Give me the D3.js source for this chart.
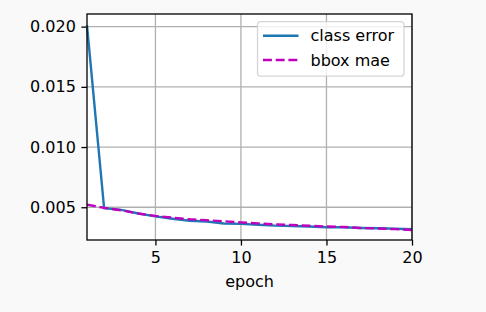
<!doctype html>
<html>
<head>
<meta charset="UTF-8">
<script src="https://cdnjs.cloudflare.com/ajax/libs/d3/7.8.5/d3.min.js"></script>
<style>
  body { margin: 0; background: #f9f9f9; }
  svg { display: block; font-family: "DejaVu Sans", sans-serif; }
</style>
</head>
<body>
<svg id="chart" width="486" height="312"></svg>
<script>
// data
const epochs = d3.range(1, 21);
const classError = [0.0201, 0.00492, 0.00478, 0.00448, 0.00424, 0.00405, 0.00388, 0.00382, 0.00365, 0.00362,
                    0.00355, 0.00347, 0.00344, 0.00340, 0.00334, 0.00334, 0.00328, 0.00325, 0.00322, 0.00317];
const bboxMae = [0.00522, 0.00495, 0.00475, 0.00448, 0.00428, 0.00414, 0.00400, 0.00392, 0.00384, 0.00374,
                 0.00366, 0.00358, 0.00352, 0.00346, 0.00340, 0.00336, 0.00328, 0.00324, 0.00318, 0.00311];
const xTicks = [5, 10, 15, 20];
const yTicks = [0.005, 0.010, 0.015, 0.020];
const seriesNames = ['class error', 'bbox mae'];

const svg = d3.select('#chart');
const margin = {top: 14, right: 74, bottom: 72, left: 87};
const width = 486 - margin.left - margin.right;
const height = 312 - margin.top - margin.bottom;

const g = svg.append('g').attr('transform', 'translate(' + margin.left + ',' + margin.top + ')');

const x = d3.scaleLinear().domain([1, 20]).range([0, width]);
const y = d3.scaleLinear().domain([0.00228, 0.02105]).range([height, 0]);

g.append('rect').attr('width', width).attr('height', height).attr('fill', '#fff');

// grid
g.selectAll('.gx').data(xTicks).enter().append('line')
  .attr('x1', d => x(d)).attr('x2', d => x(d)).attr('y1', 0).attr('y2', height)
  .attr('stroke', '#b0b0b0').attr('stroke-width', 1.3);
g.selectAll('.gy').data(yTicks).enter().append('line')
  .attr('y1', d => y(d)).attr('y2', d => y(d)).attr('x1', 0).attr('x2', width)
  .attr('stroke', '#b0b0b0').attr('stroke-width', 1.3);

// axes
const xAxis = g.append('g').attr('transform', 'translate(0,' + height + ')')
  .call(d3.axisBottom(x).tickValues(xTicks).tickFormat(d3.format('d')).tickSize(5.6).tickPadding(5.6));
const yAxis = g.append('g')
  .call(d3.axisLeft(y).tickValues(yTicks).tickFormat(d3.format('.3f')).tickSize(5.6).tickPadding(5.6));
[xAxis, yAxis].forEach(a => {
  a.select('.domain').remove();
  a.selectAll('line').attr('stroke', '#000').attr('stroke-width', 1.3);
  a.selectAll('text').attr('font-size', 16).attr('fill', '#000').attr('font-family', '"DejaVu Sans", sans-serif');
});

g.append('text').attr('x', width / 2).attr('y', height + 47)
  .attr('text-anchor', 'middle').attr('font-size', 16).text('epoch');

// lines
const line = d3.line().x((d, i) => x(epochs[i])).y(d => y(d));
g.append('path').datum(classError).attr('d', line)
  .attr('fill', 'none').attr('stroke', '#1f77b4').attr('stroke-width', 2.4);
g.append('path').datum(bboxMae).attr('d', line)
  .attr('fill', 'none').attr('stroke', '#bf00bf').attr('stroke-width', 2.4)
  .attr('stroke-dasharray', '8.9,3.8');

// frame
g.append('rect').attr('width', width).attr('height', height)
  .attr('fill', 'none').attr('stroke', '#000').attr('stroke-width', 1.3);

// legend
const lg = g.append('g').attr('transform', 'translate(' + (257.5 - margin.left) + ',' + (21.7 - margin.top) + ')');
lg.append('rect').attr('width', 146.5).attr('height', 54.5).attr('rx', 3)
  .attr('fill', 'rgba(255,255,255,0.8)').attr('stroke', 'rgba(204,204,204,0.8)').attr('stroke-width', 1.3);
const styles = [{c: '#1f77b4', d: null}, {c: '#bf00bf', d: '8.9,3.8'}];
seriesNames.forEach((name, i) => {
  const ry = 14 + i * 24.3;
  lg.append('line').attr('x1', 5.5).attr('x2', 41).attr('y1', ry).attr('y2', ry)
    .attr('stroke', styles[i].c).attr('stroke-width', 2.4).attr('stroke-dasharray', styles[i].d);
  lg.append('text').attr('x', 53).attr('y', ry).attr('dy', '0.36em')
    .attr('font-size', 16).text(name);
});
</script>
</body>
</html>
